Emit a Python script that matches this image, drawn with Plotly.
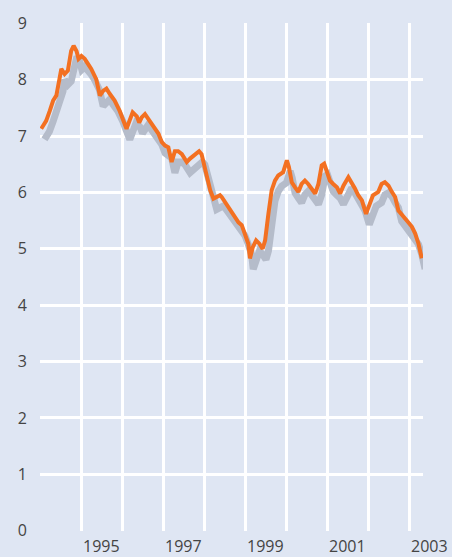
import plotly.graph_objects as go

# Decimal years and values
years = [1994.03, 1994.15, 1994.24, 1994.32, 1994.40, 1994.48, 1994.52, 1994.60, 1994.68, 1994.76,
         1994.82, 1994.89, 1994.94, 1995.01, 1995.09, 1995.17, 1995.25, 1995.37, 1995.46, 1995.54,
         1995.62, 1995.70, 1995.82, 1995.94, 1996.03, 1996.11, 1996.26, 1996.36, 1996.42, 1996.48,
         1996.56, 1996.64, 1996.76, 1996.89, 1996.97, 1997.05, 1997.13, 1997.21, 1997.29, 1997.37,
         1997.46, 1997.58, 1997.66, 1997.74, 1997.82, 1997.88, 1997.94, 1998.02, 1998.10, 1998.15,
         1998.23, 1998.31, 1998.39, 1998.43, 1998.51, 1998.59, 1998.68, 1998.76, 1998.84, 1998.92,
         1999.00, 1999.08, 1999.12, 1999.19, 1999.27, 1999.35, 1999.43, 1999.49, 1999.57, 1999.65,
         1999.73, 1999.81, 1999.93, 2000.02, 2000.07, 2000.14, 2000.22, 2000.30, 2000.38, 2000.46,
         2000.54, 2000.63, 2000.71, 2000.79, 2000.87, 2000.93, 2000.99, 2001.07, 2001.15, 2001.24,
         2001.32, 2001.40, 2001.52, 2001.60, 2001.68, 2001.76, 2001.85, 2001.95, 2002.03, 2002.12,
         2002.25, 2002.33, 2002.41, 2002.50, 2002.58, 2002.66, 2002.74, 2002.86, 2002.98, 2003.07,
         2003.15, 2003.23, 2003.31]
values = [7.13, 7.27, 7.45, 7.63, 7.72, 7.98, 8.19, 8.10, 8.16, 8.51,
          8.60, 8.51, 8.37, 8.42, 8.37, 8.28, 8.19, 8.01, 7.72, 7.80,
          7.84, 7.75, 7.63, 7.45, 7.30, 7.13, 7.42, 7.35, 7.24, 7.33,
          7.39, 7.30, 7.19, 7.04, 6.89, 6.83, 6.80, 6.54, 6.73, 6.73,
          6.68, 6.54, 6.60, 6.65, 6.68, 6.73, 6.68, 6.45, 6.21, 6.04,
          5.89, 5.92, 5.95, 5.92, 5.83, 5.74, 5.65, 5.56, 5.47, 5.42,
          5.27, 5.09, 4.83, 5.03, 5.15, 5.09, 5.00, 5.15, 5.62, 6.04,
          6.21, 6.30, 6.36, 6.57, 6.45, 6.18, 6.09, 6.01, 6.15, 6.21,
          6.15, 6.07, 5.98, 6.15, 6.48, 6.51, 6.39, 6.21, 6.15, 6.09,
          5.98, 6.12, 6.27, 6.18, 6.07, 5.95, 5.86, 5.62, 5.80, 5.95,
          6.01, 6.15, 6.18, 6.12, 6.01, 5.92, 5.68, 5.56, 5.47, 5.39,
          5.27, 5.09, 4.83]

grid_years = list(range(1994, 2004))
label_years = [1995, 1997, 1999, 2001, 2003]
y_ticks = list(range(0, 10))

BG = "#dfe6f3"
ORANGE = "#f37021"
SHADOW = "#b5bcca"

X_RANGE = [1994, 2003.34]

# shadow offset (style)
sdx, sdy = 0.08, -0.19

fig = go.Figure()
fig.add_trace(go.Scatter(x=[x + sdx for x in years], y=[v + sdy for v in values],
                         mode="lines", line=dict(color=SHADOW, width=7),
                         hoverinfo="skip", showlegend=False))
fig.add_trace(go.Scatter(x=years, y=values, mode="lines",
                         line=dict(color=ORANGE, width=4), showlegend=False))

# year labels centred in each year's span (paper coords derived from axis range)
span = X_RANGE[1] - X_RANGE[0]
for yr in label_years:
    fig.add_annotation(x=(yr + 0.5 - X_RANGE[0]) / span, y=0, xref="paper", yref="paper",
                       xanchor="center", yanchor="top", yshift=-2, text=str(yr),
                       showarrow=False,
                       font=dict(family="Open Sans", size=16, color="#444444"))

fig.update_layout(
    width=452, height=557,
    margin=dict(l=40, r=29, t=23, b=26),
    paper_bgcolor=BG, plot_bgcolor=BG,
    xaxis=dict(range=X_RANGE, tickvals=grid_years, showticklabels=False,
               showgrid=True, gridcolor="white", gridwidth=2.5, zeroline=False,
               showline=False, ticks=""),
    yaxis=dict(range=[-0.005, 9.005], tickvals=y_ticks, showgrid=True,
               gridcolor="white", gridwidth=2.5, zeroline=False, showline=False,
               ticks="", ticklabelstandoff=12, automargin=False,
               tickfont=dict(family="Open Sans", size=16, color="#444444")),
)

fig.write_html("out.html", config={"displayModeBar": False},
               post_script="document.body.style.margin='0px';document.body.style.background='%s';" % BG)
